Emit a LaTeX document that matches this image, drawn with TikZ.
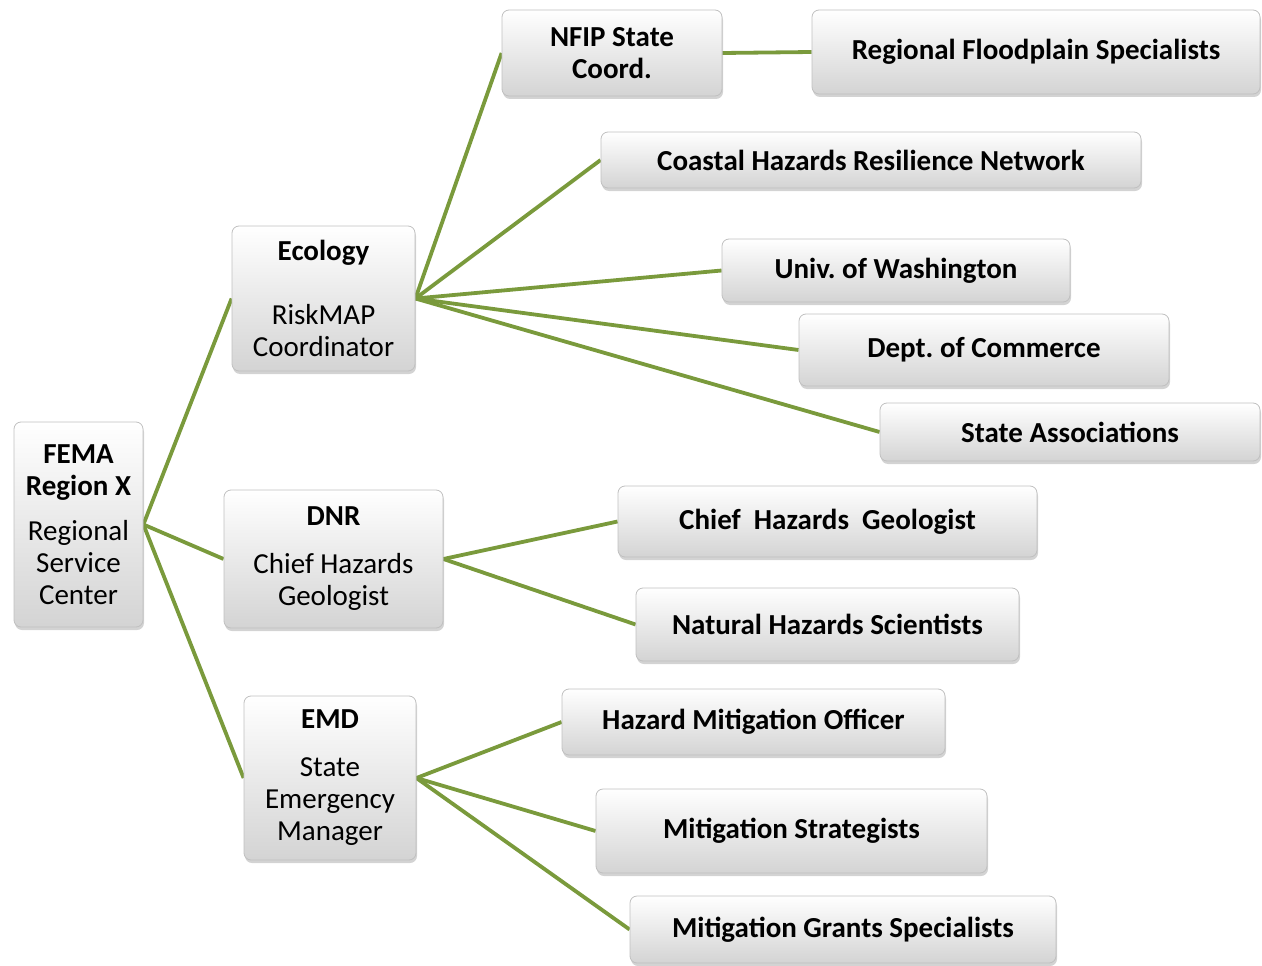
\documentclass[tikz,border=0pt]{standalone}
\usepackage{fontspec}
\setmainfont{Carlito}
\usetikzlibrary{shadows,backgrounds}
\definecolor{linkgreen}{RGB}{122,154,60}
\definecolor{boxedge}{RGB}{192,192,192}
\frenchspacing

\begin{document}
\begin{tikzpicture}[x=1pt, y=-1pt,
    orgbox/.style={draw=boxedge, line width=0.8pt, rounded corners=7pt,
        top color=white, bottom color=black!17,
        drop shadow={opacity=0.35, shadow xshift=1pt, shadow yshift=-3pt},
        align=center, inner sep=2pt, font=\fontsize{29}{32}\selectfont},
    leaf/.style={orgbox, font=\fontsize{29}{32}\selectfont\bfseries},
    link/.style={draw=linkgreen, line width=3.8pt}]
    \useasboundingbox (0,0) rectangle (1262,966);

    \node[orgbox, minimum width=129, minimum height=205] (fema) at (78.5,524.5)
        {\textbf{FEMA}\\\textbf{Region X}\\[13pt]Regional\\Service\\Center};
    \node[orgbox, minimum width=183, minimum height=145] (eco) at (323.5,298.5)
        {\textbf{Ecology}\\[32pt]RiskMAP\\Coordinator};
    \node[orgbox, minimum width=219, minimum height=138] (dnr) at (333.5,559)
        {\textbf{DNR}\\[16pt]Chief Hazards\\Geologist};
    \node[orgbox, minimum width=172, minimum height=164] (emd) at (330,778)
        {\textbf{EMD}\\[16pt]State\\Emergency\\Manager};

    \node[leaf, minimum width=220, minimum height=86] (nfip) at (612,53) {NFIP State\\Coord.};
    \node[leaf, minimum width=448, minimum height=84] (floodplain) at (1036,52) {Regional Floodplain Specialists};
    \node[leaf, minimum width=540, minimum height=56] (coastal) at (871,160) {Coastal Hazards Resilience Network};
    \node[leaf, minimum width=348, minimum height=63] (univ) at (896,270.5) {Univ. of Washington};
    \node[leaf, minimum width=370, minimum height=72] (commerce) at (984,350) {Dept. of Commerce};
    \node[leaf, minimum width=380, minimum height=58] (assoc) at (1070,432) {State Associations};

    \node[leaf, minimum width=419, minimum height=71] (geologist) at (827.5,521.5) {Chief~ Hazards~ Geologist};
    \node[leaf, minimum width=383, minimum height=73] (scientists) at (827.5,624.5) {Natural Hazards Scientists};

    \node[leaf, minimum width=383, minimum height=66] (officer) at (753.5,722) {Hazard Mitigation Officer};
    \node[leaf, minimum width=391, minimum height=84] (strategists) at (791.5,831) {Mitigation Strategists};
    \node[leaf, minimum width=426, minimum height=67] (grants) at (843,929.5) {Mitigation Grants Specialists};

    \begin{scope}[on background layer]
        \foreach \a/\b in {fema/eco, fema/dnr, fema/emd,
            eco/nfip, eco/coastal, eco/univ, eco/commerce, eco/assoc, nfip/floodplain,
            dnr/geologist, dnr/scientists,
            emd/officer, emd/strategists, emd/grants}{
            \draw[link] (\a.east) -- (\b.west);
        }
    \end{scope}
\end{tikzpicture}
\end{document}
